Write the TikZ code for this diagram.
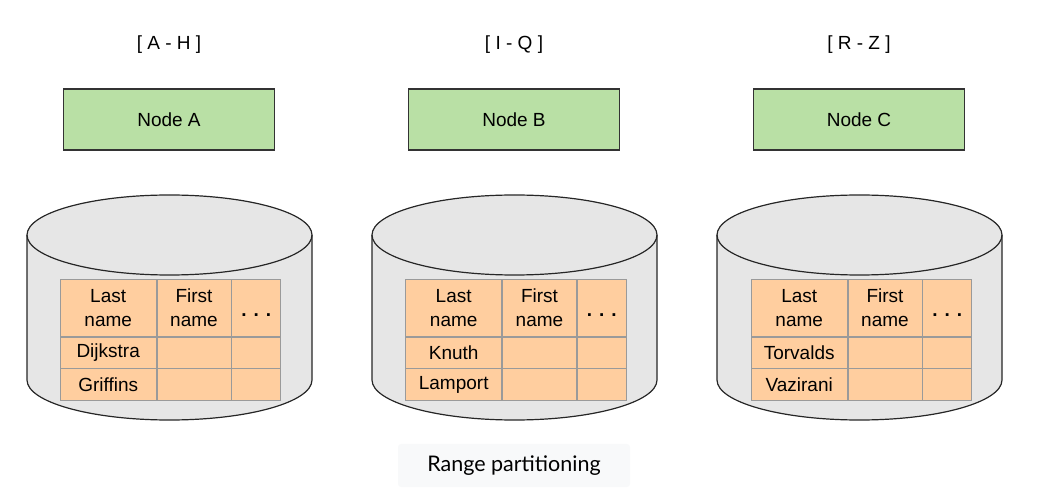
\documentclass[tikz,border=0pt]{standalone}
\usepackage{fontspec}
\setmainfont{Liberation Sans}
\newfontfamily\capfont{Lato}
\usetikzlibrary{matrix,positioning}

\definecolor{nodegreen}{HTML}{B9E0A5}
\definecolor{cellorange}{HTML}{FFCE9F}
\definecolor{cellline}{HTML}{9A9A9A}
\definecolor{diskgrey}{HTML}{E6E6E6}
\definecolor{capgrey}{HTML}{F8F9FA}
\newcommand{\twolines}[2]{\begin{tabular}{@{}c@{}}\rule{0pt}{20pt}#1\\#2\end{tabular}}
\newcommand{\moredots}{\rule{0pt}{17pt}\textbf{.\hspace{7pt}.\hspace{7pt}.}}

\begin{document}
\begin{tikzpicture}[x=1pt, y=1pt,
    txt/.style={font=\fontsize{19}{24}\selectfont},
    keyrange/.style={txt},
    server/.style={txt, draw=black!80, fill=nodegreen, line width=1.2pt, minimum width=211pt, minimum height=61pt},
    disk/.style={draw=black!85, fill=diskgrey, line width=1.2pt},
    rim/.style={draw=black!85, line width=1.2pt},
    tbl/.style={matrix of nodes, nodes in empty cells, column sep=0pt, row sep=0pt,
        nodes={txt, draw=cellline, fill=cellorange, line width=0.8pt, outer sep=0pt, inner sep=0pt, anchor=center},
        column 1/.style={nodes={minimum width=96pt}},
        column 2/.style={nodes={minimum width=74pt}},
        column 3/.style={nodes={minimum width=49pt}},
        row 1/.style={nodes={minimum height=57pt}},
        row 2/.style={nodes={minimum height=31pt}},
        row 3/.style={nodes={minimum height=32pt}}},
    capbox/.style={fill=capgrey, rounded corners=3pt, minimum width=232pt, minimum height=43pt, font=\capfont\fontsize{21.5}{25}\selectfont}]
    \useasboundingbox (0,0) rectangle (1042,493);
    % ranges
    \node[keyrange] (rA) at (169,448) {[ A - H ]};
    \node[keyrange] (rB) at (514,448) {[ I - Q ]};
    \node[keyrange] (rC) at (859,448) {[ R - Z ]};
    % nodes
    \node[server] (nA) at (169,373.5) {Node A};
    \node[server] (nB) at (514,373.5) {Node B};
    \node[server] (nC) at (859,373.5) {Node C};
    % disks
    \draw[disk] (27,258) -- (27,113) arc[start angle=180, end angle=360, x radius=142.5, y radius=40] -- (312,258) arc[start angle=0, end angle=180, x radius=142.5, y radius=40] -- cycle;
    \draw[rim] (27,258) arc[start angle=180, end angle=360, x radius=142.5, y radius=40];
    \draw[disk] (372,258) -- (372,113) arc[start angle=180, end angle=360, x radius=142.5, y radius=40] -- (657,258) arc[start angle=0, end angle=180, x radius=142.5, y radius=40] -- cycle;
    \draw[rim] (372,258) arc[start angle=180, end angle=360, x radius=142.5, y radius=40];
    \draw[disk] (717,258) -- (717,113) arc[start angle=180, end angle=360, x radius=142.5, y radius=40] -- (1002,258) arc[start angle=0, end angle=180, x radius=142.5, y radius=40] -- cycle;
    \draw[rim] (717,258) arc[start angle=180, end angle=360, x radius=142.5, y radius=40];
    % tables
    \matrix[tbl] (tA) at (170.5,153) {
        \twolines{Last}{name} & \twolines{First}{name} & \moredots \\
        Dijkstra & & \\
        Griffins & & \\
    };
    \matrix[tbl] (tB) at (516,153) {
        \twolines{Last}{name} & \twolines{First}{name} & \moredots \\
        Knuth & & \\
        Lamport & & \\
    };
    \matrix[tbl] (tC) at (861.5,153) {
        \twolines{Last}{name} & \twolines{First}{name} & \moredots \\
        Torvalds & & \\
        Vazirani & & \\
    };
    \node[capbox] (cap) at (514,27.5) {Range partitioning};
\end{tikzpicture}
\end{document}
